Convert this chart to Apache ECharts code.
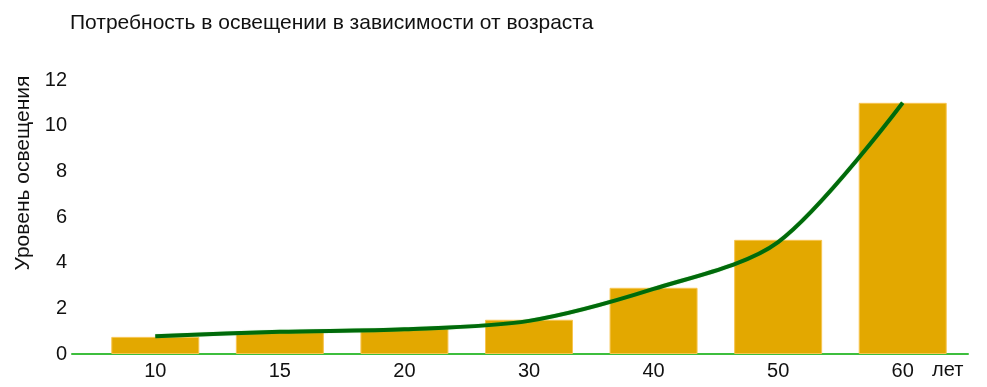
<!DOCTYPE html>
<html><head><meta charset="utf-8">
<script src="https://cdn.jsdelivr.net/npm/echarts@6/dist/echarts.min.js"></script>
<style>html,body{margin:0;padding:0;background:#fff}#c{width:987px;height:387px}</style>
</head><body><div id="c"></div>
<script>
const titleText = 'Потребность в освещении в зависимости от возраста';
const yName = 'Уровень освещения';
const xName = 'лет';
const categories = ['10', '15', '20', '30', '40', '50', '60'];
const barValues = [0.75, 1.0, 1.1, 1.5, 2.9, 5.0, 11.0];
const trendValues = [0.78, 0.97, 1.08, 1.45, 2.85, 4.9, 11.0];

const chart = echarts.init(document.getElementById('c'), null, {renderer: 'canvas'});
const font = 'Liberation Sans, Arial, sans-serif';
chart.setOption({
  animation: false,
  textStyle: {fontFamily: font},
  title: {text: titleText, left: 65, top: 8, textStyle: {fontSize: 21, fontWeight: 'normal', color: '#111', fontFamily: font}},
  grid: [
    {left: 93, right: 22, top: 80, bottom: 33},
    {left: 72, right: 19, top: 80, bottom: 33}
  ],
  xAxis: [
    {type: 'category', gridIndex: 0, data: categories, boundaryGap: true,
     axisLine: {show: false}, axisTick: {show: false},
     axisLabel: {color: '#111', fontSize: 20, margin: 7},
     name: xName, nameLocation: 'end', nameGap: -33,
     nameTextStyle: {color: '#111', fontSize: 20, verticalAlign: 'top', align: 'left', padding: [6, 0, 0, 0]}},
    {type: 'value', gridIndex: 1, min: 0, max: 1, axisLabel: {show: false}, axisTick: {show: false},
     splitLine: {show: false}, axisLine: {show: true, lineStyle: {color: '#3DBE3D', width: 2}}}
  ],
  yAxis: [
    {type: 'value', gridIndex: 0, min: 0, max: 12, interval: 2,
     axisLine: {show: false}, axisTick: {show: false}, splitLine: {show: false},
     axisLabel: {color: '#111', fontSize: 20, margin: 26},
     name: yName, nameLocation: 'middle', nameGap: 59, nameRotate: 90,
     nameTextStyle: {color: '#111', fontSize: 21, padding: [0, 0, 0, 88]}},
    {type: 'value', gridIndex: 1, show: false, min: 0, max: 1}
  ],
  series: [
    {type: 'bar', xAxisIndex: 0, yAxisIndex: 0, data: barValues, barWidth: 88,
     itemStyle: {color: '#E3A800', borderColor: '#F7C550', borderWidth: 1}},
    {type: 'line', xAxisIndex: 0, yAxisIndex: 0, data: trendValues, smooth: 0.3,
     symbol: 'none', lineStyle: {color: '#006A0A', width: 4, shadowColor: 'rgba(80,200,80,0.6)', shadowBlur: 1}}
  ]
});
</script></body></html>
